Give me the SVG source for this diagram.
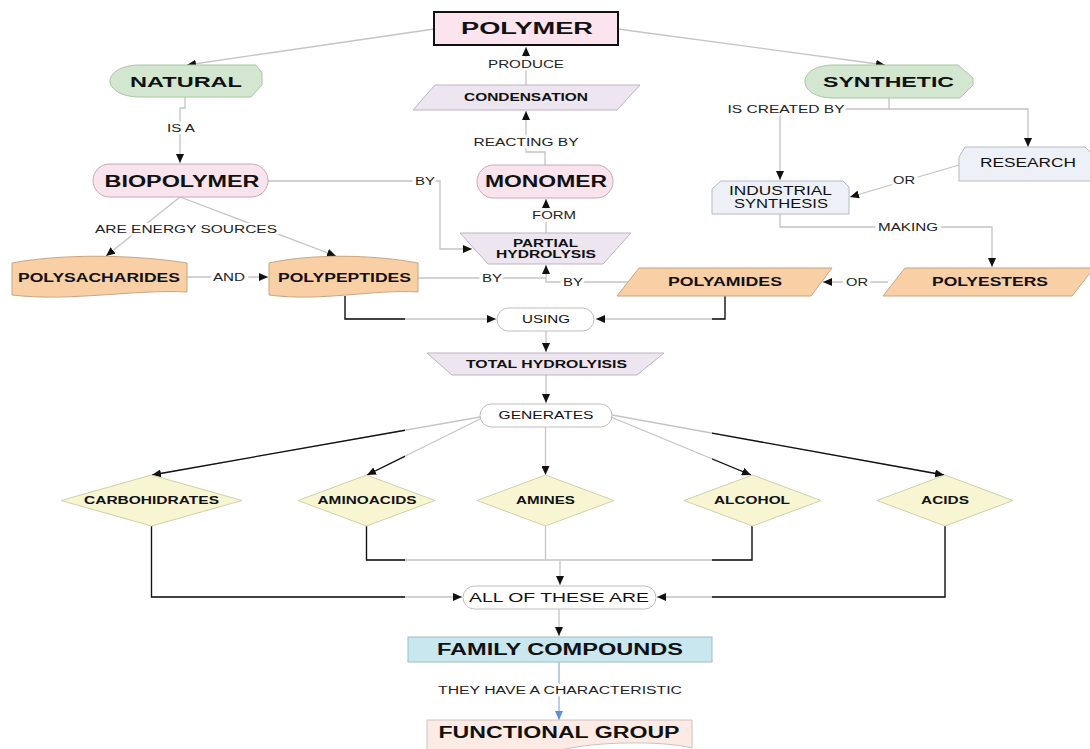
<svg xmlns="http://www.w3.org/2000/svg" width="1090" height="749" viewBox="0 0 1090 749">
<style>
text{font-family:"Liberation Sans",Arial,sans-serif;text-anchor:middle;fill:#111}
.b{font-weight:bold}
.lbl{font-size:10px;fill:#222;stroke:#fff;stroke-width:5px;paint-order:stroke;stroke-linejoin:round}
.c{fill:none;stroke:#c4c4c4;stroke-width:1.3}
.k{fill:none;stroke:#111;stroke-width:1.3}
.pink{fill:#f9e3ec;stroke:#c8a9b6;stroke-width:1}
.green{fill:#d3e7d0;stroke:#a8c6a2;stroke-width:1}
.lav{fill:#ede6f0;stroke:#bdb3c2;stroke-width:1}
.peach{fill:#f9cfa5;stroke:#c9a583;stroke-width:1}
.blue{fill:#edf1f7;stroke:#b3bbc6;stroke-width:1}
.dia{fill:#f7f5d2;stroke:#d2cfa8;stroke-width:1}
.pill{fill:#fff;stroke:#bdbdbd;stroke-width:1}
</style>
<defs>
<marker id="ah" viewBox="0 0 10 10" refX="10" refY="5" markerWidth="9" markerHeight="8" markerUnits="userSpaceOnUse" orient="auto" preserveAspectRatio="none"><path d="M0,0 L10,5 L0,10 z" fill="#111"/></marker>
<marker id="ahb" viewBox="0 0 10 10" refX="10" refY="5" markerWidth="9" markerHeight="8" markerUnits="userSpaceOnUse" orient="auto" preserveAspectRatio="none"><path d="M0,0 L10,5 L0,10 z" fill="#5b8fd6"/></marker>
<clipPath id="dark"><rect x="0" y="290" width="405" height="459"/><rect x="712" y="290" width="378" height="459"/></clipPath>
</defs>

<g id="connectors">
<g id="conn-gray" marker-end="url(#ah)">
<path class="c" d="M434,29 L187,65"/>
<path class="c" d="M618,29 L885,65"/>
<path class="c" d="M185,97 V108 H180 V163"/>
<path class="c" d="M268,181 H440 V249 H472"/>
<path class="c" d="M180,197 L106,256"/>
<path class="c" d="M180,197 L336,256"/>
<path class="c" d="M187,277 H268"/>
<path class="c" d="M418,278 H546" marker-end="none"/>
<path class="c" d="M628,282 H546 V265"/>
<path class="c" d="M545,165 V152 H526 V111"/>
<path class="c" d="M546,233 V199"/>
<path class="c" d="M526,85 V47"/>
<path class="c" d="M889,98 V109 H780 V180"/>
<path class="c" d="M889,109 H1028 V147"/>
<path class="c" d="M959,165 L850,197"/>
<path class="c" d="M780,214 V227 H992 V267"/>
<path class="c" d="M888,282 H823"/>
<path class="c" d="M345,296 V319 H496"/>
<path class="c" d="M725,296 V319 H596"/>
<path class="c" d="M546,331 V352"/>
<path class="c" d="M546,375 V403"/>
<path class="c" d="M480,417 L152,475"/>
<path class="c" d="M482,418 L367,475"/>
<path class="c" d="M545.5,427 V475"/>
<path class="c" d="M611,417 L751,475"/>
<path class="c" d="M612,415 L944,475"/>
<path class="c" d="M151.5,526 V597 H462"/>
<path class="c" d="M366.5,526 V560 H752 V526" marker-end="none"/>
<path class="c" d="M545.5,526 V560" marker-end="none"/>
<path class="c" d="M560,560 V585"/>
<path class="c" d="M945,526 V597 H657"/>
<path class="c" d="M559,609 V636"/>
</g>
<g id="conn-dark" clip-path="url(#dark)">
<path class="k" d="M345,296 V319 H496"/>
<path class="k" d="M725,296 V319 H596"/>
<path class="k" d="M480,417 L152,475"/>
<path class="k" d="M482,418 L367,475"/>
<path class="k" d="M611,417 L751,475"/>
<path class="k" d="M612,415 L944,475"/>
<path class="k" d="M151.5,526 V597 H462"/>
<path class="k" d="M366.5,526 V560 H752 V526"/>
<path class="k" d="M945,526 V597 H657"/>
</g>
<path d="M559,662 V720" fill="none" stroke="#8fb4e3" stroke-width="1.3" marker-end="url(#ahb)"/>
<g id="conn-labels">
<text class="lbl" x="181" y="131.6" textLength="28" lengthAdjust="spacingAndGlyphs">IS A</text>
<text class="lbl" x="425" y="184.6" textLength="20" lengthAdjust="spacingAndGlyphs">BY</text>
<text class="lbl" x="186" y="232.6" textLength="182" lengthAdjust="spacingAndGlyphs">ARE ENERGY SOURCES</text>
<text class="lbl" x="229" y="280.6" textLength="32" lengthAdjust="spacingAndGlyphs">AND</text>
<text class="lbl" x="492" y="281.6" textLength="20" lengthAdjust="spacingAndGlyphs">BY</text>
<text class="lbl" x="573" y="285.6" textLength="20" lengthAdjust="spacingAndGlyphs">BY</text>
<text class="lbl" x="526" y="67.6" textLength="76" lengthAdjust="spacingAndGlyphs">PRODUCE</text>
<text class="lbl" x="526" y="145.6" textLength="105" lengthAdjust="spacingAndGlyphs">REACTING BY</text>
<text class="lbl" x="554" y="218.6" textLength="44" lengthAdjust="spacingAndGlyphs">FORM</text>
<text class="lbl" x="786" y="112.6" textLength="117" lengthAdjust="spacingAndGlyphs">IS CREATED BY</text>
<text class="lbl" x="904" y="183.6" textLength="22" lengthAdjust="spacingAndGlyphs">OR</text>
<text class="lbl" x="908" y="230.6" textLength="60" lengthAdjust="spacingAndGlyphs">MAKING</text>
<text class="lbl" x="857" y="285.6" textLength="22" lengthAdjust="spacingAndGlyphs">OR</text>
<text class="lbl" x="560" y="693.6" textLength="244" lengthAdjust="spacingAndGlyphs">THEY HAVE A CHARACTERISTIC</text>
</g>
</g>

<g id="polymer">
<rect x="434" y="12" width="184" height="33" fill="#fce4ee" stroke="#111" stroke-width="2"/>
<text class="b" x="527" y="34" font-size="16" textLength="132" lengthAdjust="spacingAndGlyphs">POLYMER</text>
</g>
<g id="natural">
<path class="green" d="M140,65 H256 L262,73 V85 L251,97 H140 C121,97 110,89 110,81 C110,73 121,65 140,65 Z"/>
<text class="b" x="186" y="86.5" font-size="15" textLength="112" lengthAdjust="spacingAndGlyphs">NATURAL</text>
</g>
<g id="synthetic">
<path class="green" d="M834,65 H958 L973,78 V85 L960,98 H834 C815,98 805,90 805,81.5 C805,73 815,65 834,65 Z"/>
<text class="b" x="888.5" y="87" font-size="15.5" textLength="131" lengthAdjust="spacingAndGlyphs">SYNTHETIC</text>
</g>
<g id="condensation">
<polygon class="lav" points="435,85 640,85 617,110 413,110"/>
<text class="b" x="526" y="100.7" font-size="10.3" textLength="124" lengthAdjust="spacingAndGlyphs">CONDENSATION</text>
</g>
<g id="biopolymer">
<rect class="pink" x="93" y="164" width="175" height="33" rx="16.5"/>
<text class="b" x="182" y="186.7" font-size="16" textLength="155" lengthAdjust="spacingAndGlyphs">BIOPOLYMER</text>
</g>
<g id="monomer">
<rect class="pink" x="477" y="165" width="136" height="33" rx="16.5"/>
<text class="b" x="546" y="187" font-size="16" textLength="122" lengthAdjust="spacingAndGlyphs">MONOMER</text>
</g>
<g id="research">
<path class="blue" d="M959,181 V157 L965,147 H1085 L1091,153 V181 Z"/>
<text x="1028" y="167.3" font-size="12" textLength="96" lengthAdjust="spacingAndGlyphs">RESEARCH</text>
</g>
<g id="industrial-synthesis">
<path class="blue" d="M712,214 V189 L721,181 H843 L849,187 V214 Z"/>
<text x="780.5" y="194.8" font-size="12" textLength="103" lengthAdjust="spacingAndGlyphs">INDUSTRIAL</text>
<text x="781" y="207.8" font-size="12" textLength="94" lengthAdjust="spacingAndGlyphs">SYNTHESIS</text>
</g>
<g id="partial-hydrolysis">
<polygon class="lav" points="460,233 631,233 603,264 488,264"/>
<text class="b" x="545.5" y="246.6" font-size="10" textLength="65" lengthAdjust="spacingAndGlyphs">PARTIAL</text>
<text class="b" x="546" y="257.8" font-size="10" textLength="100" lengthAdjust="spacingAndGlyphs">HYDROLYSIS</text>
</g>
<g id="polysacharides">
<path class="peach" d="M12,263 C60,254 130,254 187,263 V292 C135,289 70,302 12,295 Z"/>
<text class="b" x="99" y="281.5" font-size="12.5" textLength="162" lengthAdjust="spacingAndGlyphs">POLYSACHARIDES</text>
</g>
<g id="polypeptides">
<path class="peach" d="M269,263 C310,254 370,254 418,263 V292 C375,289 320,302 269,295 Z"/>
<text class="b" x="344.5" y="281.5" font-size="12.5" textLength="133" lengthAdjust="spacingAndGlyphs">POLYPEPTIDES</text>
</g>
<g id="polyamides">
<polygon class="peach" points="639,268 832,268 811,296 617,296"/>
<text class="b" x="725" y="285.5" font-size="12.5" textLength="114" lengthAdjust="spacingAndGlyphs">POLYAMIDES</text>
</g>
<g id="polyesters">
<polygon class="peach" points="905,268 1094,268 1072,296 883,296"/>
<text class="b" x="990" y="285.5" font-size="12.5" textLength="116" lengthAdjust="spacingAndGlyphs">POLYESTERS</text>
</g>
<g id="using">
<rect class="pill" x="497" y="308" width="97" height="23" rx="11.5"/>
<text x="546" y="322.6" font-size="10" textLength="48" lengthAdjust="spacingAndGlyphs">USING</text>
</g>
<g id="total-hydrolysis">
<polygon class="lav" points="427,353 664,353 637,375 452,375"/>
<text class="b" x="546.5" y="367.6" font-size="10" textLength="161" lengthAdjust="spacingAndGlyphs">TOTAL HYDROLYISIS</text>
</g>
<g id="generates">
<rect class="pill" x="480" y="404" width="132" height="23" rx="11.5"/>
<text x="546" y="418.6" font-size="10" textLength="95" lengthAdjust="spacingAndGlyphs">GENERATES</text>
</g>
<g id="carbohidrates">
<polygon class="dia" points="61,500.5 151.5,475 242,500.5 151.5,526"/>
<text class="b" x="151.5" y="504" font-size="10" textLength="135" lengthAdjust="spacingAndGlyphs">CARBOHIDRATES</text>
</g>
<g id="aminoacids">
<polygon class="dia" points="298,500.5 366.5,475 435,500.5 366.5,526"/>
<text class="b" x="367" y="504" font-size="10" textLength="99" lengthAdjust="spacingAndGlyphs">AMINOACIDS</text>
</g>
<g id="amines">
<polygon class="dia" points="477,500.5 545.5,475 614,500.5 545.5,526"/>
<text class="b" x="545.5" y="504" font-size="10" textLength="59" lengthAdjust="spacingAndGlyphs">AMINES</text>
</g>
<g id="alcohol">
<polygon class="dia" points="684,500.5 752.5,475 821,500.5 752.5,526"/>
<text class="b" x="752" y="504" font-size="10" textLength="76" lengthAdjust="spacingAndGlyphs">ALCOHOL</text>
</g>
<g id="acids">
<polygon class="dia" points="877,500.5 945,475 1013,500.5 945,526"/>
<text class="b" x="945" y="504" font-size="10" textLength="48" lengthAdjust="spacingAndGlyphs">ACIDS</text>
</g>
<g id="all-of-these-are">
<rect class="pill" x="463" y="586" width="193" height="23" rx="11.5"/>
<text x="559" y="602" font-size="13.5" textLength="180" lengthAdjust="spacingAndGlyphs">ALL OF THESE ARE</text>
</g>
<g id="family-compounds">
<rect x="408" y="637" width="304" height="25" fill="#c9e7ef" stroke="#9fbcc5" stroke-width="1"/>
<text class="b" x="560" y="655" font-size="16" textLength="246" lengthAdjust="spacingAndGlyphs">FAMILY COMPOUNDS</text>
</g>
<g id="functional-group">
<path d="M427,720 H692 V748 C670,742 610,740 565,749 C520,758 465,760 427,754 Z" fill="#fcebe4" stroke="#c9c2bf" stroke-width="1"/>
<text class="b" x="559" y="738" font-size="16" textLength="241" lengthAdjust="spacingAndGlyphs">FUNCTIONAL GROUP</text>
</g>
</svg>
